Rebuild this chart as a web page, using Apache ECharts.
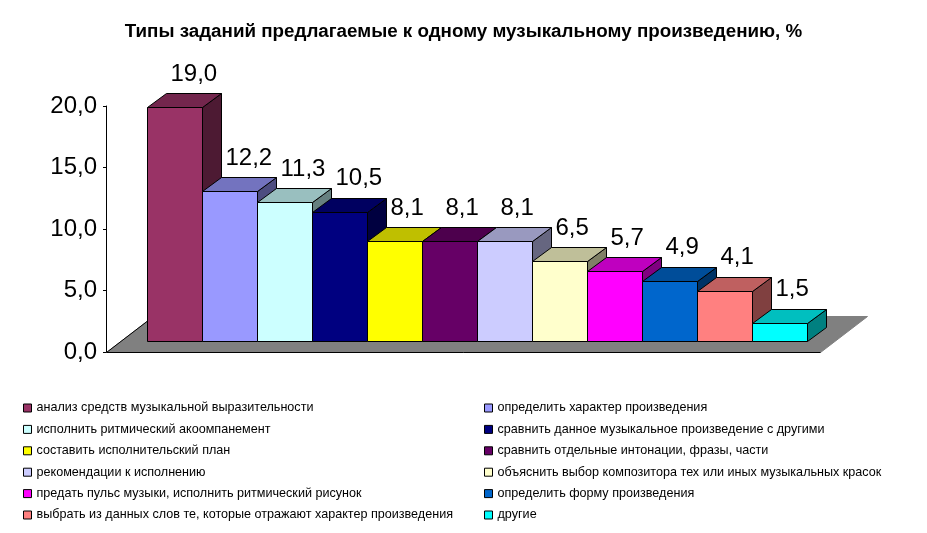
<!DOCTYPE html>
<html><head><meta charset="utf-8">
<style>html,body{margin:0;padding:0;background:#fff}#c{width:927px;height:533px}</style>
<script src="https://cdn.jsdelivr.net/npm/echarts@6/dist/echarts.min.js"></script>
</head><body><div id="c"></div>
<script>
const chartTitle = 'Типы заданий предлагаемые к одному музыкальному произведению, %';
const categories = [
  'анализ средств музыкальной выразительности',
  'определить характер произведения',
  'исполнить ритмический акоомпанемент',
  'сравнить данное музыкальное произведение с другими',
  'составить исполнительский план',
  'сравнить отдельные интонации, фразы, части',
  'рекомендации к исполнению',
  'объяснить выбор композитора тех или иных музыкальных красок',
  'предать пульс музыки, исполнить ритмический рисунок',
  'определить форму произведения',
  'выбрать из данных слов те, которые отражают характер произведения',
  'другие'
];
const values = [19.0, 12.2, 11.3, 10.5, 8.1, 8.1, 8.1, 6.5, 5.7, 4.9, 4.1, 1.5];
const colors = ['#993366','#9999FF','#CCFFFF','#000080','#FFFF00','#660066','#CCCCFF','#FFFFCC','#FF00FF','#0066CC','#FF8080','#00FFFF'];

const comma = v => v.toFixed(1).replace('.', ',');
const FONT = '"Liberation Sans", Arial, sans-serif';
const snap = p => [Math.round(p[0]) + 0.5, Math.round(p[1]) + 0.5];
function shade(hex, k) {
  const n = parseInt(hex.slice(1), 16);
  const c = [n >> 16, (n >> 8) & 255, n & 255].map(x => Math.round(x * k));
  return 'rgb(' + c.join(',') + ')';
}
// 3D projection offsets
const BASE = [14, -11], DEPTH = [19, -14], FLOOR = [47, -36], FLOOR_L = -41, FLOOR_R = 13;

function poly(points, fill, stroke) {
  return { type: 'polygon', shape: { points: points.map(snap) },
    style: { fill, stroke: stroke || '#000', lineWidth: 1 } };
}
const barSeries = categories.map((name, i) => ({
  type: 'custom', name, coordinateSystem: 'cartesian2d', clip: false, silent: true,
  z: 3 + i, itemStyle: { color: colors[i] },
  encode: { x: 0, y: 1 }, data: [[i, values[i]]],
  renderItem(params, api) {
    const v = api.value(1), idx = api.value(0), w = api.size([1, 0])[0];
    const c = api.coord([idx, v]), b = api.coord([idx, 0]);
    const L = c[0] - w / 2, R = L + w, B = b[1] + BASE[1], T = c[1] + BASE[1];
    const D = DEPTH;
    return { type: 'group', children: [
      poly([[R, B], [R + D[0], B + D[1]], [R + D[0], T + D[1]], [R, T]], shade(colors[i], 0.5)),
      poly([[L, T], [R, T], [R + D[0], T + D[1]], [L + D[0], T + D[1]]], shade(colors[i], 0.75)),
      poly([[L, B], [R, B], [R, T], [L, T]], colors[i]),
      { type: 'text', z2: 50, style: { text: comma(v), x: c[0] - 4, y: T - 33,
        fill: '#000', align: 'left', verticalAlign: 'middle', font: '24px ' + FONT } }
    ] };
  }
}));
const floorSeries = {
  type: 'custom', name: 'floor', clip: false, silent: true, z: 1,
  encode: { x: 0, y: 1 }, data: [[0, 0]],
  renderItem(params, api) {
    const w = api.size([1, 0])[0], n = categories.length;
    const a = api.coord([0, 0]), y = a[1], x0 = a[0] - w / 2 + FLOOR_L, x1 = a[0] - w / 2 + w * n + FLOOR_R;
    const F = FLOOR;
    return { type: 'group', children: [
      poly([[x0, y], [x1, y], [x1 + F[0], y + F[1]], [x0 + F[0], y + F[1]]], '#808080', '#808080'),
      { type: 'polyline', shape: { points: [[x0, y], [x1, y]].map(snap) }, style: { stroke: '#000', lineWidth: 1, fill: null } },
      { type: 'polyline', shape: { points: [[x0, y], [x0 + F[0], y + F[1]]].map(snap) }, style: { stroke: '#000', lineWidth: 1, fill: null } }
    ] };
  }
};
const legendBase = {
  orient: 'vertical', selectedMode: false, itemWidth: 8, itemHeight: 8, itemGap: 8.4, top: 401.5,
  icon: 'rect', itemStyle: { borderColor: '#000', borderWidth: 1 },
  textStyle: { fontFamily: FONT, fontSize: 12.6, color: '#000', lineHeight: 13 }, padding: 0
};
const chart = echarts.init(document.getElementById('c'), null, { renderer: 'canvas' });
chart.setOption({
  animation: false, backgroundColor: '#fff',
  title: { text: chartTitle, left: 'center', top: 22, padding: 0,
    textStyle: { fontFamily: FONT, fontSize: 18.8, fontWeight: 'bold', color: '#000' } },
  grid: { left: 147, width: 660, top: 106, height: 246 },
  xAxis: { type: 'category', data: categories, boundaryGap: true, show: false },
  yAxis: { type: 'value', min: 0, max: 20, interval: 5, offset: 41,
    axisLine: { show: true, lineStyle: { color: '#000', width: 1 } },
    axisTick: { show: true, length: 3, lineStyle: { color: '#000' } },
    splitLine: { show: false },
    axisLabel: { margin: 9, fontFamily: FONT, fontSize: 24, color: '#000', padding: [4, 0, 0, 0], formatter: comma } },
  legend: [
    Object.assign({}, legendBase, { left: 23, data: categories.filter((_, i) => i % 2 === 0) }),
    Object.assign({}, legendBase, { left: 484, data: categories.filter((_, i) => i % 2 === 1) })
  ],
  series: [floorSeries].concat(barSeries)
});
</script></body></html>
